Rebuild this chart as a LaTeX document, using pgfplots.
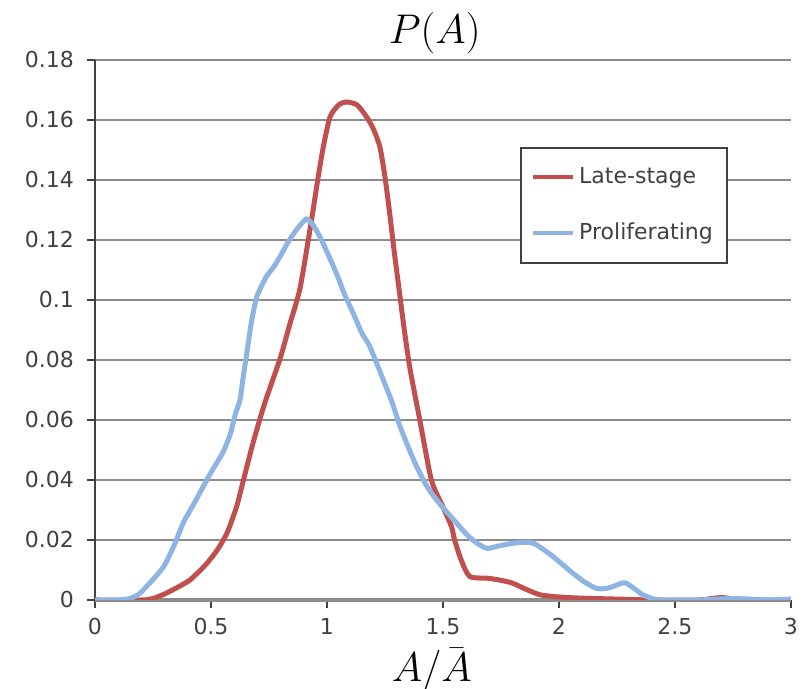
\documentclass[border=0pt]{standalone}
\usepackage{fontspec}
\usepackage{pgfplots}
\pgfplotsset{compat=1.18}
\newfontfamily\dejavu{DejaVu Sans}
\definecolor{redc}{RGB}{192,80,77}
\definecolor{bluec}{RGB}{141,180,226}
\definecolor{gridc}{RGB}{140,140,140}
\definecolor{tickc}{RGB}{65,65,65}
\begin{document}
\begin{tikzpicture}
\begin{axis}[
  at={(0,0)}, anchor=south west,
  scale only axis, width=348pt, height=270pt,
  xmin=0, xmax=3, ymin=0, ymax=0.18,
  xtick={0,0.5,1,1.5,2,2.5,3},
  xticklabels={0,0.5,1,1.5,2,2.5,3},
  ytick={0,0.02,0.04,0.06,0.08,0.1,0.12,0.14,0.16,0.18},
  yticklabels={0,0.02,0.04,0.06,0.08,0.1,0.12,0.14,0.16,0.18},
  tick label style={font=\dejavu\fontsize{11}{13}\selectfont, text=tickc},
  xticklabel style={inner sep=0.5pt, yshift=-4.6pt},
  yticklabel style={xshift=-3pt},
  tick pos=left, tick align=outside, major tick length=4pt,
  tick style={tickc, line width=0.8pt},
  ymajorgrids, grid style={gridc, line width=1pt},
  axis x line*=bottom, axis y line*=left,
  x axis line style={-, draw=gridc, line width=2pt},
  y axis line style={-, draw=tickc, line width=0.9pt},
  title={$P(A)$},
  title style={font=\fontsize{22}{24}\selectfont, at={(axis description cs:0.488,1)}, anchor=base, yshift=2pt},
  xlabel={$A/\bar{\hbox{\raisebox{0pt}[0.62em]{$A$}}}$},
  xlabel style={font=\fontsize{22}{24}\selectfont, inner sep=0pt, at={(axis description cs:0.484,0)}, anchor=center, yshift=-35pt},
  legend style={at={(axis description cs:0.611,0.839)}, anchor=north west, draw=tickc, line width=1pt,
     font=\dejavu\fontsize{11}{13}\selectfont, text=tickc, row sep=14pt, inner xsep=5pt, inner ysep=8pt},
  legend cell align=left,
  legend image code/.code={\draw[#1, line width=2pt] (0pt,0pt) -- (20pt,0pt);},
]
\addplot[redc, line width=2.5pt, smooth, tension=0.4] coordinates {
(0,0) (0.2,0) (0.25,0.0005) (0.3,0.002) (0.35,0.004) (0.41,0.0067) (0.48,0.012) (0.53,0.017) (0.57,0.0225) (0.61,0.031) (0.64,0.04) (0.68,0.052) (0.725,0.064) (0.76,0.072) (0.80,0.081) (0.84,0.092) (0.884,0.104) (0.934,0.127) (0.96,0.14) (0.984,0.151) (1.013,0.161) (1.05,0.165) (1.085,0.166) (1.13,0.165) (1.171,0.161) (1.2,0.157) (1.228,0.151) (1.25,0.141) (1.27,0.129) (1.29,0.116) (1.315,0.101) (1.335,0.089) (1.358,0.077) (1.40,0.060) (1.45,0.040) (1.50,0.031) (1.537,0.0244) (1.55,0.020) (1.58,0.013) (1.616,0.0078) (1.70,0.0072) (1.76,0.0064) (1.80,0.0056) (1.86,0.0035) (1.92,0.0017) (2.0,0.001) (2.1,0.0006) (2.2,0.0004) (2.3,0.0002) (2.4,0) (2.6,0) (2.7,0.0008) (2.8,0) (3,0)
};
\addlegendentry{Late-stage}
\addplot[bluec, line width=2.5pt, smooth, tension=0.4] coordinates {
(0,0) (0.1,0) (0.15,0.0005) (0.19,0.002) (0.24,0.006) (0.295,0.011) (0.34,0.018) (0.38,0.0256) (0.44,0.034) (0.496,0.042) (0.55,0.049) (0.582,0.055) (0.605,0.062) (0.625,0.0667) (0.64,0.075) (0.654,0.082) (0.675,0.093) (0.697,0.101) (0.72,0.105) (0.74,0.108) (0.77,0.111) (0.797,0.1144) (0.83,0.119) (0.855,0.122) (0.885,0.125) (0.912,0.127) (0.94,0.125) (0.97,0.121) (1.0,0.116) (1.04,0.109) (1.075,0.102) (1.113,0.0956) (1.15,0.089) (1.185,0.0844) (1.243,0.0733) (1.28,0.066) (1.315,0.0578) (1.35,0.051) (1.387,0.0444) (1.43,0.038) (1.473,0.0333) (1.52,0.029) (1.559,0.0256) (1.6,0.022) (1.645,0.019) (1.69,0.0172) (1.74,0.018) (1.80,0.0189) (1.85,0.0192) (1.89,0.0189) (1.93,0.017) (1.976,0.0144) (2.02,0.0115) (2.06,0.0089) (2.11,0.006) (2.16,0.0039) (2.2,0.0038) (2.23,0.0044) (2.27,0.0056) (2.29,0.0056) (2.33,0.0035) (2.36,0.0018) (2.405,0.0004) (2.45,0) (2.6,0) (2.75,0.0005) (2.9,0) (3,0.0003)
};
\addlegendentry{Proliferating}
\end{axis}
\pgfresetboundingbox
\path[use as bounding box] (-47.5pt,-44.5pt) rectangle (358pt,300pt);
\end{tikzpicture}
\end{document}
